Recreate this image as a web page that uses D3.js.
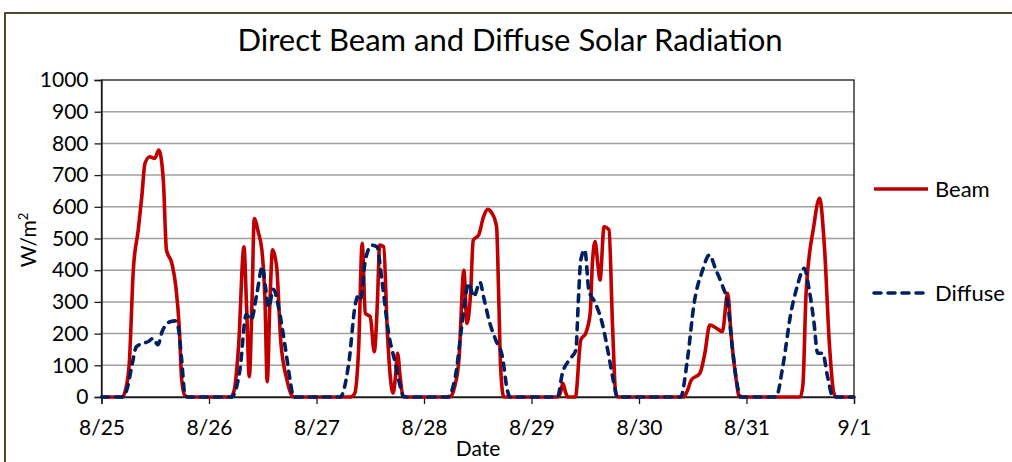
<!DOCTYPE html>
<html><head><meta charset="utf-8">
<script src="https://cdn.jsdelivr.net/npm/d3@7"></script>
<style>
html,body{margin:0;padding:0;background:#fff;}
svg{display:block;}
text{font-family:Lato,"Open Sans",sans-serif;fill:#000;}
</style></head>
<body>
<svg id="chart" width="1012" height="462"></svg>
<script>
// time in hours since 8/25 00:00
const dateTicks = ["8/25","8/26","8/27","8/28","8/29","8/30","8/31","9/1"];
const yTicks = [0,100,200,300,400,500,600,700,800,900,1000];

const beamHours = [0,4.6,5.5,6.2,7.1,8.2,9.0,9.7,10.8,11.9,12.8,13.8,14.5,15.7,16.6,17.4,17.9,18.6,19.2,
  28.8,29.6,30.6,31.8,32.4,33.0,33.6,34.1,35.0,35.8,36.5,37.0,37.6,38.2,39.1,40.0,41.4,42.3,43.0,
  55.6,56.5,57.4,58.2,58.9,60.0,60.9,61.6,62.1,63.0,63.8,64.5,65.1,65.6,66.1,66.7,67.3,68.0,
  77.8,78.8,79.8,80.9,81.6,82.4,83.0,84.2,85.3,86.2,87.2,88.2,88.7,89.1,89.8,
  101.9,102.5,103.0,103.6,104.1,105.8,107.0,108.1,109.1,109.6,110.2,110.8,111.3,112.2,113.3,114.1,114.8,115.3,
  130.0,130.8,131.7,133.6,134.7,135.8,137.3,138.6,139.8,140.6,141.7,142.4,
  156.0,156.6,157.3,159.0,160.3,161.4,162.5,163.5,164.1,168];
const beamValues = [0,0,30,106,400,527,632,737,758,753,779,684,464,422,348,211,54,5,0,
  0,20,160,474,280,64,300,563,520,464,306,48,300,464,411,180,54,10,0,
  0,10,150,485,264,253,143,300,479,474,211,60,12,60,138,60,5,0,
  0,30,117,400,232,327,495,511,569,592,579,537,306,96,0,
  0,15,43,15,0,0,180,201,264,422,490,420,369,537,527,222,12,0,
  0,20,54,75,138,227,217,206,327,190,54,0,
  0,40,327,537,627,474,169,12,0,0];

const diffHours = [0,4.6,5.8,6.8,7.8,9.5,10.5,11.5,12.6,13.5,14.4,15.5,16.4,17.1,17.9,18.6,19.2,
  29.0,30.9,32.3,33.4,34.7,35.9,36.6,37.3,38.4,39.5,41.0,42.1,42.9,
  53.3,55.2,56.7,57.4,57.9,58.9,60.4,61.5,62.6,64.1,65.6,66.7,67.5,
  77.2,79.0,80.5,82.0,83.1,84.5,85.3,86.5,88.0,89.5,90.6,91.2,
  101.8,102.9,104.4,105.9,106.5,107.0,107.9,108.8,110.3,111.8,113.3,114.4,115.2,
  129.3,130.8,132.3,134.2,135.7,137.2,138.7,139.8,140.9,142.0,142.8,
  150.6,152.1,153.9,155.3,156.9,158.0,159.0,159.9,161.0,162.1,163.3,168];
const diffValues = [0,0,30,100,159,170,175,185,165,205,228,238,240,222,117,10,0,
  0,85,260,243,327,411,348,283,340,285,159,54,0,
  0,106,295,322,311,432,479,474,369,201,106,33,0,
  0,64,232,359,316,362,316,243,180,127,22,0,
  0,75,117,148,316,432,464,338,295,232,127,43,0,
  0,117,295,400,448,400,348,295,148,33,0,
  0,96,264,348,406,338,243,138,138,64,0,0];

const legendNames = ["Beam","Diffuse"];
const colors = {Beam:"#c00000", Diffuse:"#002060"};

const svg = d3.select("#chart");
const L = 101.5, R = 854, T = 80, B = 397;

// frame
svg.append("line").attr("x1",5).attr("x2",1012).attr("y1",13).attr("y2",13)
  .attr("stroke","#4f4a2c").attr("stroke-width",2);
svg.append("line").attr("x1",5).attr("x2",5).attr("y1",12).attr("y2",462)
  .attr("stroke","#4f4a2c").attr("stroke-width",2);

const x = d3.scaleLinear().domain([0,168]).range([L,R]);
const y = d3.scaleLinear().domain([0,1000]).range([B,T]);

// gridlines
svg.append("g").selectAll("line").data(yTicks.slice(1,-1)).join("line")
  .attr("x1",L).attr("x2",R).attr("y1",d=>y(d)).attr("y2",d=>y(d))
  .attr("stroke","#a0a0a0").attr("stroke-width",1.5);

// plot border
svg.append("rect").attr("x",L).attr("y",T).attr("width",R-L).attr("height",B-T)
  .attr("fill","none").attr("stroke","#1a1a1a").attr("stroke-width",1.3);

// y axis
const yAxis = d3.axisLeft(y).tickValues(yTicks).tickSize(7).tickPadding(6).tickFormat(d3.format("d"));
const gy = svg.append("g").attr("transform",`translate(${L},0)`).call(yAxis);
gy.select(".domain").attr("stroke","#1a1a1a").attr("stroke-width",1.3);
gy.selectAll(".tick line").attr("stroke","#1a1a1a").attr("stroke-width",1.3);
gy.selectAll("text").style("font-size","21px").style("font-family","Lato,sans-serif").attr("fill","#000");

// x axis
const xAxis = d3.axisBottom(x).tickValues(d3.range(0,8).map(i=>i*24)).tickSize(7).tickPadding(16)
  .tickFormat((d,i)=>dateTicks[i]);
const gx = svg.append("g").attr("transform",`translate(0,${B})`).call(xAxis);
gx.select(".domain").attr("stroke","#1a1a1a").attr("stroke-width",1.3);
gx.selectAll(".tick line").attr("stroke","#1a1a1a").attr("stroke-width",1.3);
gx.selectAll("text").style("font-size","21px").style("font-family","Lato,sans-serif").attr("fill","#000");

const line = d3.line().x(d=>x(d[0])).y(d=>y(d[1])).curve(d3.curveMonotoneX);
const beam = beamHours.map((h,i)=>[h,beamValues[i]]);
const diff = diffHours.map((h,i)=>[h,diffValues[i]]);

svg.append("path").datum(beam).attr("d",line).attr("fill","none")
  .attr("stroke",colors.Beam).attr("stroke-width",3.6).attr("stroke-linejoin","round");
svg.append("path").datum(diff).attr("d",line).attr("fill","none")
  .attr("stroke",colors.Diffuse).attr("stroke-width",3.6).attr("stroke-dasharray","7,7")
  .attr("stroke-linecap","round");

// titles
svg.append("text").attr("x",510).attr("y",51).attr("text-anchor","middle")
  .style("font-size","31px").text("Direct Beam and Diffuse Solar Radiation");
svg.append("text").attr("x",478).attr("y",456).attr("text-anchor","middle")
  .style("font-size","21px").text("Date");
const yl = svg.append("text").attr("transform","translate(36,240) rotate(-90)")
  .attr("text-anchor","middle").style("font-size","21px");
yl.append("tspan").text("W/m");
yl.append("tspan").attr("dy",-8).style("font-size","13px").text("2");

// legend
const legY = [189, 293];
legendNames.forEach((n,i)=>{
  svg.append("line").attr("x1",874).attr("x2",928).attr("y1",legY[i]).attr("y2",legY[i])
    .attr("stroke",colors[n]).attr("stroke-width",3.6)
    .attr("stroke-dasharray", n==="Diffuse" ? "7,7" : null)
    .attr("stroke-linecap", n==="Diffuse" ? "round" : "butt");
  svg.append("text").attr("x",935).attr("y",legY[i]+8).style("font-size","22px").text(n);
});
</script>
</body></html>
